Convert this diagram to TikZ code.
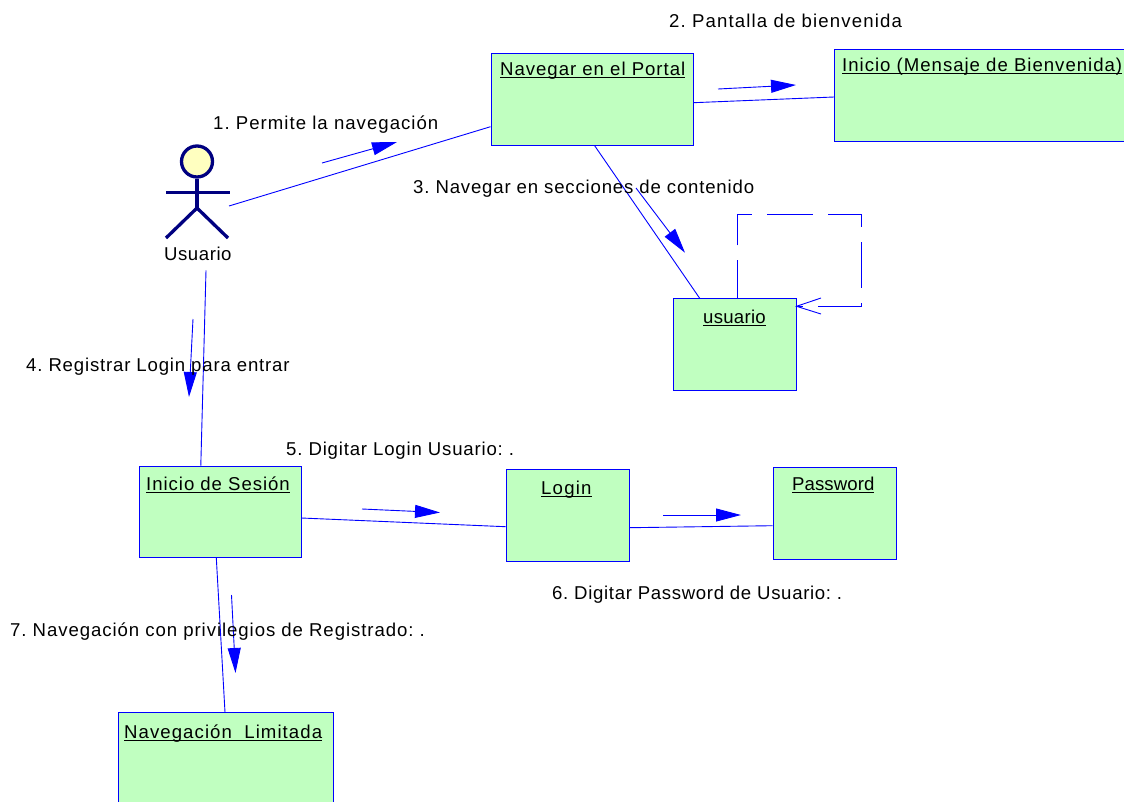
\documentclass[tikz,border=0pt]{standalone}
\usepackage{fontspec}
\setmainfont{Liberation Sans}[LetterSpace=4.4]
\usetikzlibrary{arrows.meta,calc}
\definecolor{linkblue}{RGB}{0,0,255}
\definecolor{boxgreen}{RGB}{192,255,192}
\definecolor{headyellow}{RGB}{255,255,192}
\definecolor{actornavy}{RGB}{0,0,128}
\frenchspacing
\newcommand\ubar[1]{\setbox0\hbox{#1}\leavevmode\rlap{\rule[-3.2pt]{\wd0}{1.6pt}}\box0}
\newcommand\lsp[1]{\addfontfeature{LetterSpace=#1}}
\tikzset{
  x=1pt,y=-1pt,
  objbox/.style={draw=linkblue,fill=boxgreen,line width=0.8pt,rectangle,inner sep=0pt,anchor=north west},
  boxtext/.style={anchor=base west,inner sep=0pt,font=\fontsize{18.6pt}{20pt}\selectfont},
  msgtext/.style={anchor=base west,inner sep=0pt,font=\fontsize{18.6pt}{20pt}\selectfont},
  link/.style={draw=linkblue,line width=0.9pt},
  msg/.style={draw=linkblue,line width=0.9pt,-{Triangle[length=25pt,width=13pt,fill=linkblue]}},
  actorline/.style={draw=actornavy,line width=3.3pt},
}
\begin{document}
\begin{tikzpicture}
\useasboundingbox (0,0) rectangle (1124,801);
\clip (0,0) rectangle (1124,801);
% objects
\node[objbox,minimum width=202pt,minimum height=92pt] (portal) at (490.5,52.7) {};
\node[objbox,minimum width=292pt,minimum height=92pt] (inicio) at (834,49) {};
\node[objbox,minimum width=123pt,minimum height=92pt] (usuario) at (672.7,298.3) {};
\node[objbox,minimum width=161.4pt,minimum height=91.5pt] (sesion) at (139.3,465.5) {};
\node[objbox,minimum width=123pt,minimum height=92pt] (login) at (505.7,468.7) {};
\node[objbox,minimum width=123pt,minimum height=92pt] (password) at (772.7,466.7) {};
\node[objbox,minimum width=215pt,minimum height=100pt] (limitada) at (118.3,712.3) {};
\node[boxtext] (tportal) at (500,75) {\ubar{\lsp{5.2}Navegar en el Portal}};
\node[boxtext] (tinicio) at (842,71) {\ubar{\lsp{5.3}Inicio (Mensaje de Bienvenida)}};
\node[boxtext] (tusuario) at (703,323) {\ubar{\lsp{1.4}usuario}};
\node[boxtext] (tsesion) at (146,490) {\ubar{\lsp{5.1}Inicio de Sesión}};
\node[boxtext] (tlogin) at (541,494) {\ubar{\lsp{6.5}Login}};
\node[boxtext] (tpassword) at (792,490) {\ubar{\lsp{0.4}Password}};
\node[boxtext] (tlimitada) at (124,738) {\ubar{\lsp{5.7}Navegación\ \ Limitada}};
% actor
\node[actorline,circle,fill=headyellow,minimum size=31pt,inner sep=0pt] (actorhead) at (197,161.5) {};
\coordinate (actorneck) at (197,192.5);
\coordinate (actorhip) at (197,208);
\coordinate (armL) at (166,192.5);
\coordinate (armR) at (230,192.5);
\coordinate (legL) at (166,238);
\coordinate (legR) at (228,238);
\draw[actorline] (actorhead.south) -- (actorhip);
\draw[actorline] (armL) -- (armR);
\draw[actorline,line join=miter] (legL) -- (actorhip) -- (legR);
\node[msgtext] (actorlabel) at (164,260) {\lsp{2.9}Usuario};
% links
\draw[link] ($(actorhip)+(32,-2)$) -- ($(portal.north west)+(0,74)$);
\draw[link] ($(portal.north east)+(0,50)$) -- ($(inicio.north west)+(0,48)$);
\draw[link] ($(portal.south west)+(104,0)$) -- ($(usuario.north west)+(27,0)$);
\draw[link] ($(actorlabel.south west)+(42,10)$) -- ($(sesion.north west)+(61.5,0)$);
\draw[link] ($(sesion.north east)+(0,52.5)$) -- ($(login.north west)+(0,58)$);
\draw[link] ($(login.north east)+(0,59)$) -- ($(password.north west)+(0,59)$);
\draw[link] ($(sesion.south west)+(77,0)$) -- ($(limitada.north west)+(106.7,0)$);
% self loop
\draw[link,dash pattern=on 46pt off 15pt,dash phase=8pt] ($(usuario.north west)+(65,0)$) |- (861,214) |- ($(usuario.north east)+(0,8)$);
\draw[link] (821,298) -- ($(usuario.north east)+(0,8)$) -- (821,314);
% message arrows
\coordinate (m1a) at (322,163); \coordinate (m1b) at (397,142);
\coordinate (m2a) at (718,89);  \coordinate (m2b) at (796,85);
\coordinate (m3a) at (636,188); \coordinate (m3b) at (685,252.7);
\coordinate (m4a) at (193,319); \coordinate (m4b) at (189,397);
\coordinate (m5a) at (362,509); \coordinate (m5b) at (440,512.5);
\coordinate (m6a) at (663,515); \coordinate (m6b) at (741,515);
\coordinate (m7a) at (231.5,595); \coordinate (m7b) at (235.5,673);
\foreach \i in {1,...,7} {\draw[msg] (m\i a) -- (m\i b);}
% message labels
\node[msgtext] (l1) at (213,129) {\lsp{5.5}1. Permite la navegación};
\node[msgtext] (l2) at (669,27) {\lsp{6.1}2. Pantalla de bienvenida};
\node[msgtext] (l3) at (413,193) {3. Navegar en secciones de contenido};
\node[msgtext] (l4) at (26,371) {4. Registrar Login para entrar};
\node[msgtext] (l5) at (286,455) {5. Digitar Login Usuario: .};
\node[msgtext] (l6) at (552,599) {\lsp{3.6}6. Digitar Password de Usuario: .};
\node[msgtext] (l7) at (10,636) {\lsp{5.0}7. Navegación con privilegios de Registrado: .};
\end{tikzpicture}
\end{document}
